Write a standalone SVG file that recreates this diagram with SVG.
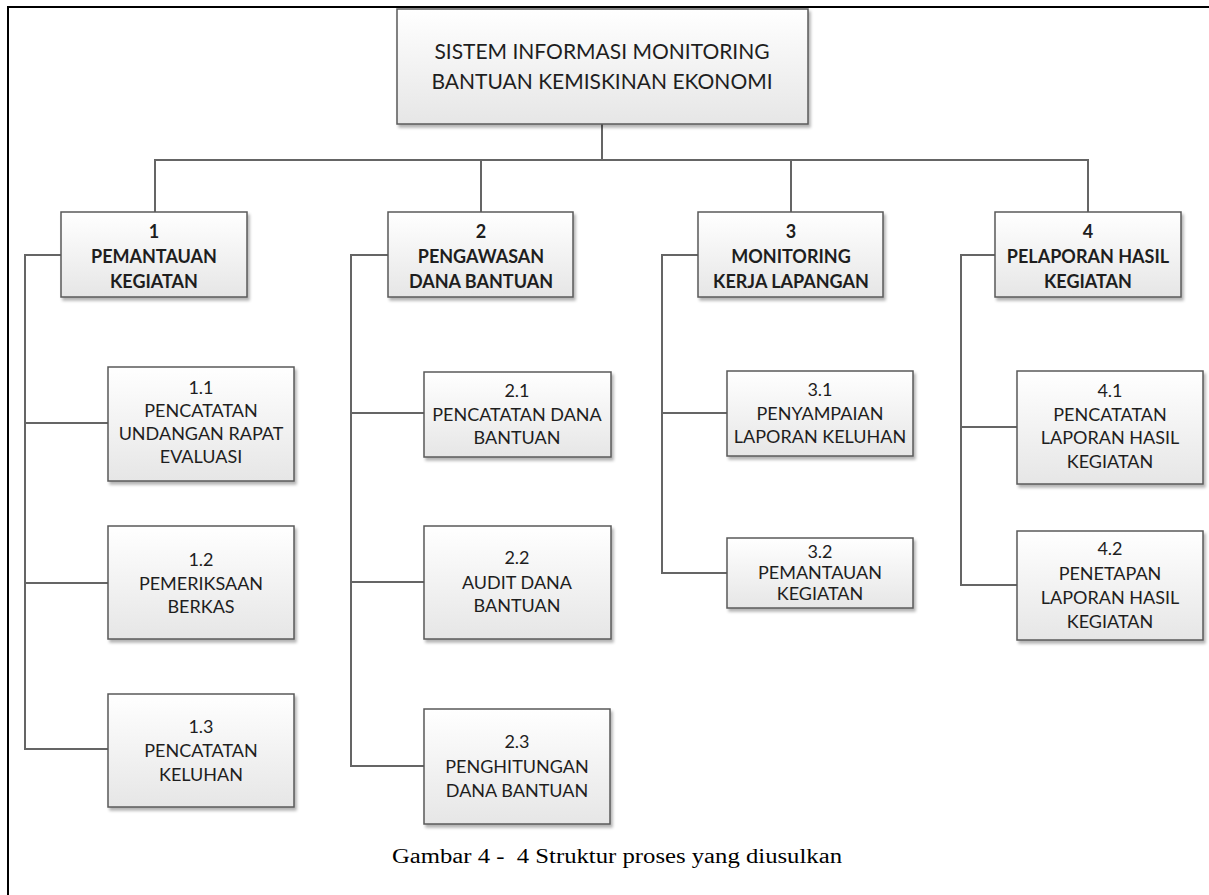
<svg xmlns="http://www.w3.org/2000/svg" width="1209" height="895" viewBox="0 0 1209 895">
  <style>
    .box { fill: url(#boxFill); stroke: #5a5a5a; stroke-width: 1.5; filter: url(#shadow); }
    .conn { fill: none; stroke: #656565; stroke-width: 2; }
    .t { font-family: Lato, "Open Sans", sans-serif; fill: #1e1e1e; text-anchor: middle; font-size: 18px; }
    .b { font-weight: bold; }
    .root { font-size: 21px; }
    .cap { font-family: "Liberation Serif", serif; font-size: 20px; fill: #000; }
  </style>
  <defs>
    <linearGradient id="boxFill" x1="0" y1="0" x2="0" y2="1">
      <stop offset="0" stop-color="#ffffff"/>
      <stop offset="1" stop-color="#e6e6e6"/>
    </linearGradient>
    <filter id="shadow" x="-5%" y="-5%" width="115%" height="125%">
      <feGaussianBlur in="SourceAlpha" stdDeviation="1.5"/>
      <feOffset dx="2" dy="3" result="s"/>
      <feComponentTransfer><feFuncA type="linear" slope="0.3"/></feComponentTransfer>
      <feMerge><feMergeNode/><feMergeNode in="SourceGraphic"/></feMerge>
    </filter>
  </defs>

  <!-- page frame -->
  <path d="M8 895 V7 H1209" fill="none" stroke="#000" stroke-width="2"/>

  <!-- connectors -->
  <g id="connectors" class="conn">
    <path d="M602 124 V160"/>
    <path d="M155 212 V160 H1088 V212"/>
    <path d="M481 160 V212"/>
    <path d="M791 160 V212"/>
    <!-- branch 1 -->
    <path d="M61 255 H25 V749 H108"/>
    <path d="M25 423 H108"/>
    <path d="M25 583 H108"/>
    <!-- branch 2 -->
    <path d="M388 255 H351 V766 H424"/>
    <path d="M351 413 H424"/>
    <path d="M351 582 H424"/>
    <!-- branch 3 -->
    <path d="M698 255 H662 V573 H727"/>
    <path d="M662 413 H727"/>
    <!-- branch 4 -->
    <path d="M995 255 H961 V585 H1017"/>
    <path d="M961 427 H1017"/>
  </g>

  <!-- root -->
  <g id="root">
    <rect class="box" x="397" y="9" width="411" height="115"/>
    <text class="t root" x="602" y="59">SISTEM INFORMASI MONITORING</text>
    <text class="t root" x="602" y="89">BANTUAN KEMISKINAN EKONOMI</text>
  </g>

  <!-- level 1 -->
  <g id="n1">
    <rect class="box" x="61" y="212" width="186" height="85"/>
    <text class="t b" x="154" y="238">1</text>
    <text class="t b" x="154" y="263">PEMANTAUAN</text>
    <text class="t b" x="154" y="288">KEGIATAN</text>
  </g>
  <g id="n2">
    <rect class="box" x="388" y="212" width="185" height="85"/>
    <text class="t b" x="481" y="238">2</text>
    <text class="t b" x="481" y="263">PENGAWASAN</text>
    <text class="t b" x="481" y="288">DANA BANTUAN</text>
  </g>
  <g id="n3">
    <rect class="box" x="698" y="212" width="185" height="85"/>
    <text class="t b" x="791" y="238">3</text>
    <text class="t b" x="791" y="263">MONITORING</text>
    <text class="t b" x="791" y="288">KERJA LAPANGAN</text>
  </g>
  <g id="n4">
    <rect class="box" x="995" y="212" width="186" height="85"/>
    <text class="t b" x="1088" y="238">4</text>
    <text class="t b" x="1088" y="263">PELAPORAN HASIL</text>
    <text class="t b" x="1088" y="288">KEGIATAN</text>
  </g>

  <!-- level 2: branch 1 -->
  <g id="n1_1">
    <rect class="box" x="108" y="367" width="186" height="114"/>
    <text class="t" x="201" y="394">1.1</text>
    <text class="t" x="201" y="417">PENCATATAN</text>
    <text class="t" x="201" y="440">UNDANGAN RAPAT</text>
    <text class="t" x="201" y="463">EVALUASI</text>
  </g>
  <g id="n1_2">
    <rect class="box" x="108" y="526" width="186" height="113"/>
    <text class="t" x="201" y="566">1.2</text>
    <text class="t" x="201" y="590">PEMERIKSAAN</text>
    <text class="t" x="201" y="613">BERKAS</text>
  </g>
  <g id="n1_3">
    <rect class="box" x="108" y="694" width="186" height="113"/>
    <text class="t" x="201" y="733">1.3</text>
    <text class="t" x="201" y="757">PENCATATAN</text>
    <text class="t" x="201" y="781">KELUHAN</text>
  </g>

  <!-- level 2: branch 2 -->
  <g id="n2_1">
    <rect class="box" x="424" y="372" width="187" height="85"/>
    <text class="t" x="517" y="397">2.1</text>
    <text class="t" x="517" y="421">PENCATATAN DANA</text>
    <text class="t" x="517" y="444">BANTUAN</text>
  </g>
  <g id="n2_2">
    <rect class="box" x="424" y="526" width="187" height="113"/>
    <text class="t" x="517" y="564">2.2</text>
    <text class="t" x="517" y="589">AUDIT DANA</text>
    <text class="t" x="517" y="612">BANTUAN</text>
  </g>
  <g id="n2_3">
    <rect class="box" x="424" y="709" width="186" height="115"/>
    <text class="t" x="517" y="748">2.3</text>
    <text class="t" x="517" y="773">PENGHITUNGAN</text>
    <text class="t" x="517" y="797">DANA BANTUAN</text>
  </g>

  <!-- level 2: branch 3 -->
  <g id="n3_1">
    <rect class="box" x="727" y="371" width="186" height="85"/>
    <text class="t" x="820" y="396">3.1</text>
    <text class="t" x="820" y="420">PENYAMPAIAN</text>
    <text class="t" x="820" y="443">LAPORAN KELUHAN</text>
  </g>
  <g id="n3_2">
    <rect class="box" x="727" y="538" width="186" height="70"/>
    <text class="t" x="820" y="558">3.2</text>
    <text class="t" x="820" y="579">PEMANTAUAN</text>
    <text class="t" x="820" y="600">KEGIATAN</text>
  </g>

  <!-- level 2: branch 4 -->
  <g id="n4_1">
    <rect class="box" x="1017" y="371" width="186" height="113"/>
    <text class="t" x="1110" y="397">4.1</text>
    <text class="t" x="1110" y="421">PENCATATAN</text>
    <text class="t" x="1110" y="444">LAPORAN HASIL</text>
    <text class="t" x="1110" y="468">KEGIATAN</text>
  </g>
  <g id="n4_2">
    <rect class="box" x="1017" y="531" width="186" height="109"/>
    <text class="t" x="1110" y="555">4.2</text>
    <text class="t" x="1110" y="580">PENETAPAN</text>
    <text class="t" x="1110" y="604">LAPORAN HASIL</text>
    <text class="t" x="1110" y="628">KEGIATAN</text>
  </g>

  <!-- caption -->
  <text class="cap" x="392" y="863" textLength="450" lengthAdjust="spacingAndGlyphs" xml:space="preserve">Gambar 4 -  4 Struktur proses yang diusulkan</text>
</svg>
